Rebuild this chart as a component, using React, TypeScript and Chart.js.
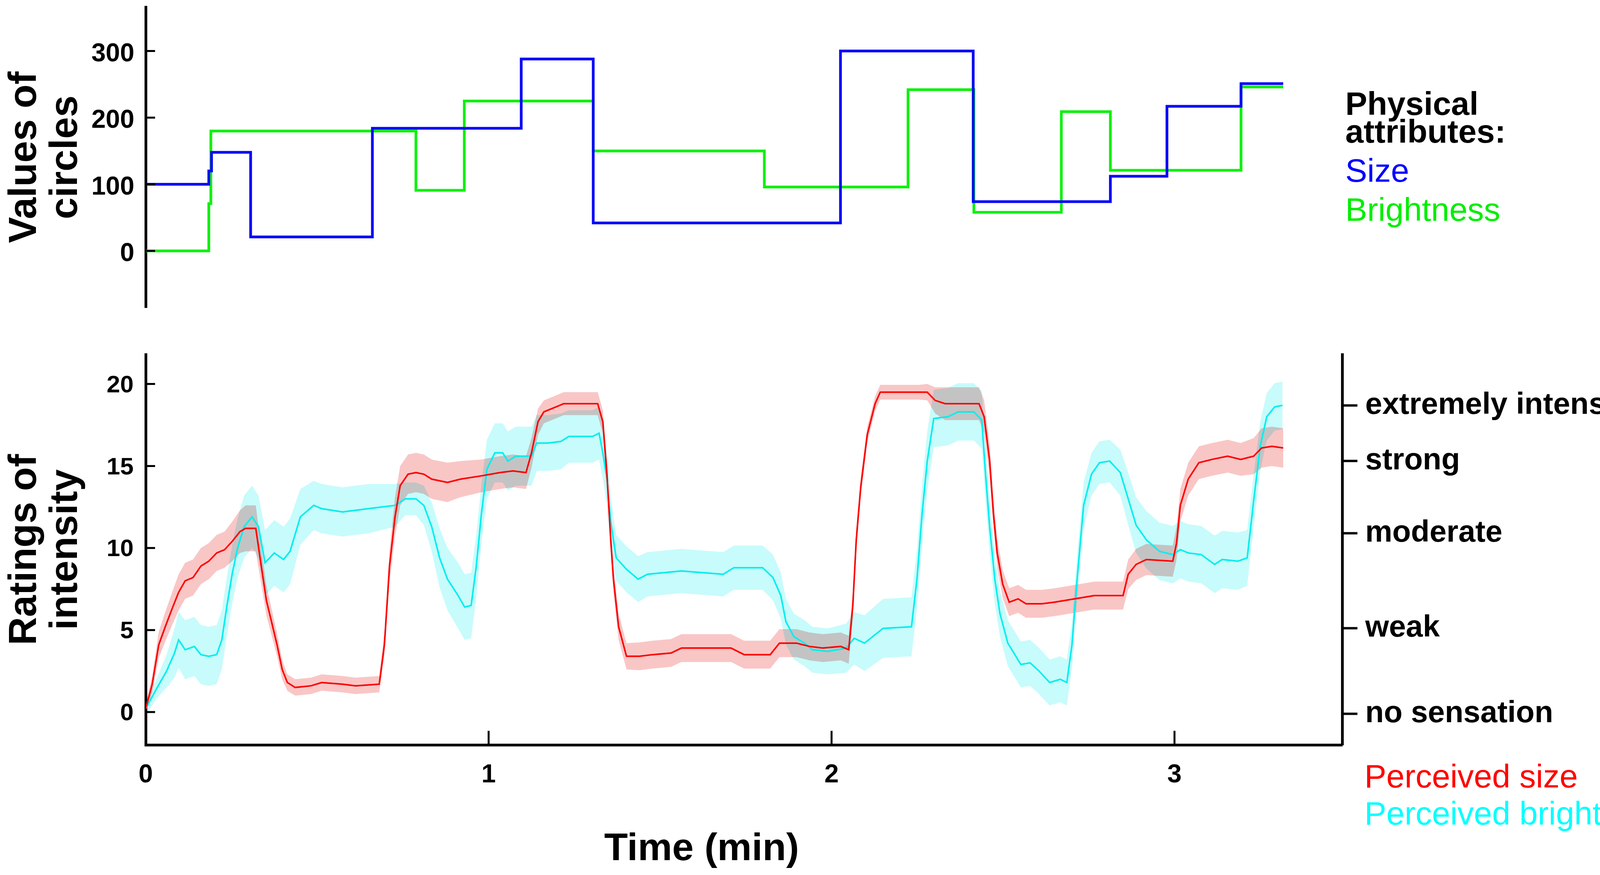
import { useEffect, useRef } from 'react';
import { Chart, registerables } from 'chart.js';

Chart.register(...registerables);

const FONT = '"Liberation Sans", Arial, Helvetica, sans-serif';

// Top panel: physical values of the circles (step functions, time in min)
const sizeStepTimes = [0, 0.184, 0.192, 0.306, 0.661, 1.095, 1.305, 2.026, 2.413, 2.813, 2.978, 3.194, 3.317];
const sizeStepValues = [100, 120, 148, 21, 184, 288, 42, 300, 74, 112, 217, 251, 251];
const brightStepTimes = [0, 0.184, 0.19, 0.788, 0.929, 1.305, 1.804, 2.223, 2.415, 2.67, 2.813, 3.194, 3.317];
const brightStepValues = [0, 71, 180, 91, 225, 150, 96, 242, 58, 209, 121, 246, 246];
const physicalTicks = [0, 100, 200, 300];

// Bottom panel: perceived size (mean rating and band half-width)
const sizeRatingTimes = [
  0, 0.019, 0.038, 0.057, 0.077, 0.096, 0.115, 0.138, 0.161, 0.184, 0.207, 0.23, 0.252, 0.275, 0.291, 0.321,
  0.337, 0.352, 0.367, 0.383, 0.398, 0.413, 0.436, 0.482, 0.513, 0.574, 0.612, 0.681, 0.696, 0.711, 0.727,
  0.742, 0.765, 0.788, 0.811, 0.834, 0.88, 0.918, 0.979, 1.033, 1.071, 1.109, 1.125, 1.144, 1.161, 1.196,
  1.219, 1.28, 1.318, 1.333, 1.345, 1.356, 1.364, 1.379, 1.402, 1.44, 1.478, 1.532, 1.562, 1.707, 1.745,
  1.821, 1.848, 1.898, 1.936, 1.974, 2.027, 2.05, 2.062, 2.072, 2.085, 2.104, 2.127, 2.142, 2.256, 2.279,
  2.302, 2.331, 2.346, 2.392, 2.43, 2.445, 2.461, 2.472, 2.483, 2.499, 2.518, 2.544, 2.567, 2.613, 2.651,
  2.766, 2.85, 2.865, 2.888, 2.918, 2.995, 3.006, 3.017, 3.04, 3.071, 3.109, 3.155, 3.193, 3.231, 3.254,
  3.284, 3.317,
];
const sizeRatingMeans = [
  0.2, 1.7, 4.1, 5.2, 6.3, 7.3, 8.0, 8.2, 8.9, 9.2, 9.7, 9.9, 10.4, 11.0, 11.2, 11.2,
  8.9, 6.8, 5.5, 4.1, 2.6, 1.8, 1.5, 1.6, 1.8, 1.7, 1.6, 1.7, 4.1, 8.9, 11.9,
  13.8, 14.5, 14.6, 14.5, 14.2, 14.0, 14.2, 14.4, 14.6, 14.7, 14.6, 15.8, 17.7, 18.3, 18.6,
  18.8, 18.8, 18.8, 17.7, 14.5, 10.5, 8.1, 5.2, 3.4, 3.4, 3.5, 3.6, 3.9, 3.9, 3.5,
  3.5, 4.2, 4.2, 4.0, 3.9, 4.0, 3.8, 6.5, 10.5, 13.7, 16.9, 18.8, 19.5, 19.5, 19.5,
  19.0, 18.8, 18.8, 18.8, 18.8, 18.0, 15.3, 12.1, 9.7, 7.8, 6.7, 6.9, 6.6, 6.6, 6.7,
  7.1, 7.1, 8.4, 9.0, 9.3, 9.2, 10.3, 12.6, 14.2, 15.2, 15.4, 15.6, 15.4, 15.6, 16.1,
  16.2, 16.1,
];
const sizeRatingErrors = [
  0.3, 0.5, 0.8, 0.9, 1.0, 1.1, 1.1, 1.1, 1.1, 1.1, 1.1, 1.1, 1.2, 1.3, 1.4, 1.4,
  1.1, 0.9, 0.8, 0.7, 0.6, 0.5, 0.5, 0.5, 0.5, 0.5, 0.5, 0.5, 0.7, 1.0, 1.2,
  1.2, 1.2, 1.2, 1.2, 1.2, 1.2, 1.1, 1.0, 1.0, 1.0, 1.0, 0.9, 0.8, 0.7, 0.7,
  0.7, 0.7, 0.7, 0.7, 0.8, 0.8, 0.8, 0.8, 0.8, 0.85, 0.85, 0.85, 0.85, 0.85, 0.85,
  0.85, 0.85, 0.85, 0.85, 0.85, 0.85, 0.85, 0.8, 0.7, 0.6, 0.5, 0.45, 0.45, 0.45, 0.5,
  0.8, 1.0, 1.0, 1.0, 1.0, 1.0, 1.0, 0.9, 0.9, 0.85, 0.85, 0.85, 0.85, 0.85, 0.85,
  0.85, 0.85, 0.9, 0.95, 0.95, 0.95, 1.0, 1.0, 1.0, 1.0, 1.0, 1.0, 1.0, 1.1, 1.2,
  1.2, 1.2,
];

// Bottom panel: perceived brightness (mean rating and band half-width)
const brightRatingTimes = [
  0, 0.031, 0.061, 0.084, 0.096, 0.115, 0.142, 0.161, 0.184, 0.207, 0.222, 0.237, 0.252, 0.268, 0.287, 0.31,
  0.329, 0.348, 0.375, 0.402, 0.421, 0.451, 0.49, 0.513, 0.574, 0.65, 0.727, 0.757, 0.788, 0.811, 0.834,
  0.857, 0.88, 0.911, 0.93, 0.949, 0.964, 0.979, 0.995, 1.018, 1.041, 1.056, 1.079, 1.125, 1.14, 1.173,
  1.211, 1.234, 1.303, 1.322, 1.333, 1.345, 1.356, 1.372, 1.402, 1.436, 1.463, 1.562, 1.684, 1.715, 1.799,
  1.829, 1.852, 1.867, 1.89, 1.921, 1.944, 1.989, 2.043, 2.066, 2.096, 2.15, 2.233, 2.249, 2.264, 2.279,
  2.298, 2.339, 2.369, 2.415, 2.438, 2.449, 2.461, 2.476, 2.491, 2.514, 2.552, 2.579, 2.605, 2.636, 2.667,
  2.686, 2.701, 2.716, 2.735, 2.758, 2.781, 2.811, 2.842, 2.865, 2.888, 2.918, 2.956, 2.995, 3.017, 3.04,
  3.078, 3.117, 3.139, 3.185, 3.212, 3.231, 3.25, 3.269, 3.292, 3.315,
];
const brightRatingMeans = [
  0.2, 1.4, 2.5, 3.6, 4.4, 3.8, 4.0, 3.5, 3.4, 3.5, 4.4, 6.5, 8.4, 10.0, 11.3, 11.9,
  11.3, 9.1, 9.7, 9.3, 9.8, 11.9, 12.6, 12.4, 12.2, 12.4, 12.6, 13.0, 13.0, 12.6, 11.3,
  9.4, 8.1, 7.1, 6.4, 6.5, 8.9, 12.1, 14.8, 15.8, 15.8, 15.3, 15.6, 15.6, 16.4, 16.4,
  16.5, 16.8, 16.8, 17.0, 15.8, 14.2, 11.6, 9.4, 8.7, 8.1, 8.4, 8.6, 8.4, 8.8, 8.8,
  8.2, 7.1, 5.5, 4.6, 4.2, 3.8, 3.7, 3.9, 4.5, 4.2, 5.1, 5.2, 8.1, 12.1, 15.3,
  17.9, 18.0, 18.3, 18.3, 17.8, 14.5, 11.3, 8.1, 6.0, 4.2, 2.9, 3.0, 2.5, 1.8, 2.0,
  1.8, 4.1, 8.1, 12.6, 14.5, 15.2, 15.3, 14.6, 13.0, 11.4, 10.5, 9.8, 9.6, 9.9, 9.7,
  9.6, 9.0, 9.3, 9.2, 9.4, 12.9, 16.2, 18.0, 18.6, 18.7,
];
const brightRatingErrors = [
  0.4, 0.6, 1.0, 1.5, 1.7, 1.8, 1.8, 1.8, 1.8, 1.8, 1.8, 1.8, 1.8, 1.8, 1.9, 1.9,
  1.9, 2.0, 2.0, 2.0, 2.0, 1.7, 1.5, 1.5, 1.5, 1.5, 1.3, 1.0, 1.0, 1.2, 1.5,
  1.8, 1.9, 2.0, 2.0, 2.0, 1.9, 1.8, 1.8, 1.8, 1.8, 1.8, 1.8, 1.8, 1.7, 1.7,
  1.7, 1.6, 1.6, 1.6, 1.6, 1.5, 1.5, 1.4, 1.4, 1.4, 1.35, 1.35, 1.35, 1.35, 1.35,
  1.4, 1.4, 1.4, 1.4, 1.4, 1.4, 1.4, 1.5, 1.6, 1.7, 1.8, 1.8, 1.8, 1.8, 1.8,
  1.75, 1.75, 1.75, 1.75, 1.75, 1.7, 1.6, 1.5, 1.4, 1.4, 1.4, 1.4, 1.4, 1.4, 1.4,
  1.4, 1.4, 1.4, 1.4, 1.3, 1.3, 1.3, 1.4, 1.6, 1.7, 1.75, 1.75, 1.75, 1.75, 1.75,
  1.75, 1.75, 1.75, 1.75, 1.7, 1.6, 1.5, 1.45, 1.45, 1.45,
];

const ratingTicks = [0, 5, 10, 15, 20];
const timeTicks = [0, 1, 2, 3];
const descriptorValues = [-0.1, 5.1, 10.9, 15.3, 18.7];
const descriptorLabels = ['no sensation', 'weak', 'moderate', 'strong', 'extremely intense'];

const toPoints = (xs: number[], ys: number[]) => xs.map((x, i) => ({ x, y: ys[i] }));
const offsetPoints = (xs: number[], ys: number[], err: number[], sign: number) =>
  xs.map((x, i) => ({ x, y: ys[i] + sign * err[i] }));

// short tick marks pointing into the plot area, as in the original figure
const innerTicks = {
  id: 'innerTicks',
  afterDatasetsDraw(chart: any) {
    const { ctx, chartArea, scales } = chart;
    ctx.save();
    ctx.strokeStyle = '#000';
    ctx.lineWidth = 5;
    ctx.beginPath();
    scales.y.ticks.forEach((t: any) => {
      const p = scales.y.getPixelForValue(t.value);
      ctx.moveTo(chartArea.left, p);
      ctx.lineTo(chartArea.left + 24, p);
    });
    if (scales.x.options.display) {
      scales.x.ticks.forEach((t: any) => {
        const p = scales.x.getPixelForValue(t.value);
        ctx.moveTo(p, chartArea.bottom);
        ctx.lineTo(p, chartArea.bottom - 36);
      });
    }
    ctx.stroke();
    ctx.restore();
  },
};

// bands are multiplied so overlapping pink and cyan turn grey
const bandBlend = {
  id: 'bandBlend',
  beforeDatasetsDraw(chart: any) {
    chart.ctx.save();
    chart.ctx.globalCompositeOperation = 'multiply';
  },
  beforeDatasetDraw(chart: any, args: any) {
    if (!chart.data.datasets[args.index].isBand) chart.ctx.globalCompositeOperation = 'source-over';
  },
  afterDatasetsDraw(chart: any) {
    chart.ctx.restore();
  },
};

const setTicks = (values: number[]) => (scale: any) => {
  scale.ticks = values.map((v) => ({ value: v }));
};

// fixed axis boxes, and no extra room for labels at the ends of the axis
const fitAxis = (width?: number, height?: number) => (s: any) => {
  if (width !== undefined) s.width = width;
  if (height !== undefined) s.height = height;
  s.paddingTop = 0;
  s.paddingBottom = 0;
  s.paddingLeft = 0;
  s.paddingRight = 0;
};

const axisBorder = { display: true, color: '#000', width: 7 };

function PhysicalPanel() {
  const chartRef = useRef<HTMLCanvasElement>(null);

  useEffect(() => {
    if (!chartRef.current) return;
    const chart = new Chart(chartRef.current, {
      type: 'line',
      data: {
        datasets: [
          {
            label: 'Size',
            data: toPoints(sizeStepTimes, sizeStepValues),
            borderColor: '#0808f8',
            borderWidth: 7,
            stepped: true,
            pointRadius: 0,
          },
          {
            label: 'Brightness',
            data: toPoints(brightStepTimes, brightStepValues),
            borderColor: '#10f010',
            borderWidth: 7,
            stepped: true,
            pointRadius: 0,
          },
        ],
      },
      options: {
        responsive: false,
        animation: false,
        layout: { padding: { top: 18, bottom: 13, left: 0, right: 882 } },
        plugins: { legend: { display: false }, tooltip: { enabled: false } },
        scales: {
          x: { type: 'linear', min: 0, max: 3.489, display: false },
          y: {
            type: 'linear',
            min: -85,
            max: 366,
            afterBuildTicks: setTicks(physicalTicks),
            afterFit: fitAxis(373),
            grid: { display: false },
            border: axisBorder,
            ticks: { color: '#000', font: { family: FONT, size: 66, weight: 'bold' }, padding: 21, labelOffset: 8 },
            title: {
              display: true,
              text: ['Values of', 'circles'],
              color: '#000',
              font: { family: FONT, size: 100, weight: 'bold', lineHeight: 1.05 },
              padding: { top: 12, bottom: 0 },
            },
          },
        },
      },
      plugins: [innerTicks],
    } as any);
    return () => chart.destroy();
  }, []);

  return (
    <canvas
      ref={chartRef}
      width={4318}
      height={800}
      style={{ position: 'absolute', left: 0, top: 0, width: 4318, height: 800 }}
    />
  );
}

function RatingsPanel() {
  const chartRef = useRef<HTMLCanvasElement>(null);

  useEffect(() => {
    if (!chartRef.current) return;
    const band = (data: any, color: string, fill: any) => ({
      data,
      isBand: true,
      order: 2,
      borderColor: 'rgba(0,0,0,0)',
      borderWidth: 1,
      backgroundColor: color,
      fill,
      pointRadius: 0,
    });
    const chart = new Chart(chartRef.current, {
      type: 'line',
      data: {
        datasets: [
          band(offsetPoints(sizeRatingTimes, sizeRatingMeans, sizeRatingErrors, 1), '#f9c6c6', '+1'),
          band(offsetPoints(sizeRatingTimes, sizeRatingMeans, sizeRatingErrors, -1), '#f9c6c6', false),
          band(offsetPoints(brightRatingTimes, brightRatingMeans, brightRatingErrors, 1), '#c8fbfb', '+1'),
          band(offsetPoints(brightRatingTimes, brightRatingMeans, brightRatingErrors, -1), '#c8fbfb', false),
          {
            label: 'Perceived size',
            data: toPoints(sizeRatingTimes, sizeRatingMeans),
            order: 1,
            borderColor: '#ff0000',
            borderWidth: 4,
            pointRadius: 0,
            fill: false,
          },
          {
            label: 'Perceived brightness',
            data: toPoints(brightRatingTimes, brightRatingMeans),
            order: 1,
            borderColor: '#00eeee',
            borderWidth: 4,
            pointRadius: 0,
            fill: false,
          },
        ],
      },
      options: {
        responsive: false,
        animation: false,
        layout: { padding: { top: 27, bottom: 0, left: 0, right: 0 } },
        plugins: { legend: { display: false }, tooltip: { enabled: false } },
        scales: {
          x: {
            type: 'linear',
            min: 0,
            max: 3.489,
            afterBuildTicks: setTicks(timeTicks),
            afterFit: fitAxis(undefined, 154),
            grid: { display: false },
            border: axisBorder,
            ticks: {
              color: '#000',
              font: { family: FONT, size: 66, weight: 'bold' },
              padding: 30,
              maxRotation: 0,
              autoSkip: false,
            },
          },
          y: {
            type: 'linear',
            position: 'left',
            min: -2,
            max: 21.8,
            afterBuildTicks: setTicks(ratingTicks),
            afterFit: fitAxis(373),
            grid: { display: false },
            border: axisBorder,
            ticks: { color: '#000', font: { family: FONT, size: 62, weight: 'bold' }, padding: 23, labelOffset: 4 },
            title: {
              display: true,
              text: ['Ratings of', 'intensity'],
              color: '#000',
              font: { family: FONT, size: 100, weight: 'bold', lineHeight: 1.05 },
              padding: { top: 12, bottom: 0 },
            },
          },
          y2: {
            type: 'linear',
            position: 'right',
            min: -2,
            max: 21.8,
            afterBuildTicks: setTicks(descriptorValues),
            afterFit: fitAxis(882),
            grid: {
              display: true,
              drawOnChartArea: false,
              drawTicks: true,
              tickLength: 39,
              tickWidth: 6,
              tickColor: '#000',
              color: '#000',
            },
            border: axisBorder,
            ticks: {
              color: '#000',
              font: { family: FONT, size: 78, weight: 'bold' },
              padding: 20,
              callback: (_v: any, i: number) => descriptorLabels[i],
            },
          },
        },
      },
      plugins: [bandBlend, innerTicks],
    } as any);
    return () => chart.destroy();
  }, []);

  return (
    <canvas
      ref={chartRef}
      width={4318}
      height={1180}
      style={{ position: 'absolute', left: 0, top: 880, width: 4318, height: 1180 }}
    />
  );
}

const textBase = { position: 'absolute' as const, fontFamily: FONT, whiteSpace: 'nowrap' as const };

export default function App() {
  return (
    <div style={{ position: 'absolute', left: 0, top: 0, width: 4318, height: 2239, background: '#fff', overflow: 'hidden' }}>
      <PhysicalPanel />
      <RatingsPanel />
      <div style={{ ...textBase, left: 3444, top: 230, fontSize: 84, lineHeight: '71px', fontWeight: 'bold', color: '#000' }}>
        Physical
        <br />
        attributes:
      </div>
      <div style={{ ...textBase, left: 3444, top: 394, fontSize: 84, lineHeight: '84px', color: '#0000ff' }}>Size</div>
      <div style={{ ...textBase, left: 3444, top: 494, fontSize: 84, lineHeight: '84px', color: '#00ee00' }}>Brightness</div>
      <div style={{ ...textBase, left: 3493, top: 1944, fontSize: 84, lineHeight: '84px', color: '#ff0000' }}>Perceived size</div>
      <div style={{ ...textBase, left: 3493, top: 2039, fontSize: 84, lineHeight: '84px', color: '#00ffff' }}>
        Perceived brightness
      </div>
      <div
        style={{
          ...textBase,
          left: 1296,
          top: 2117,
          width: 1000,
          textAlign: 'center',
          fontSize: 99,
          lineHeight: '99px',
          fontWeight: 'bold',
          color: '#000',
        }}
      >
        Time (min)
      </div>
      <div
        style={{
          ...textBase,
          left: 4275,
          top: 1330,
          fontSize: 78,
          lineHeight: '78px',
          fontWeight: 'bold',
          color: '#000',
          transform: 'translate(-50%, -50%) rotate(90deg)',
        }}
      >
        Descriptors
      </div>
    </div>
  );
}
